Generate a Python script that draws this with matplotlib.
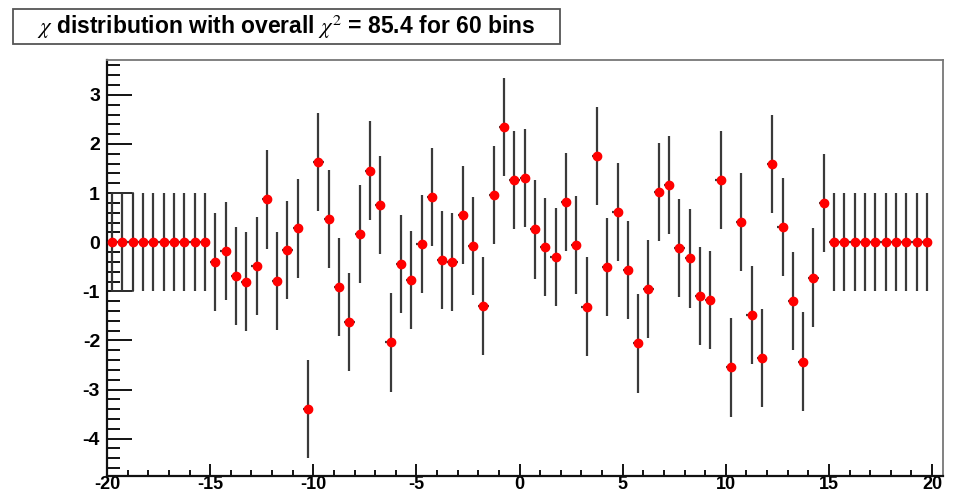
import numpy as np
import matplotlib
matplotlib.use("Agg")
import matplotlib.pyplot as plt
from matplotlib.patches import Rectangle
from matplotlib.ticker import MultipleLocator

plt.rcParams['font.family'] = ['Liberation Sans', 'DejaVu Sans']
plt.rcParams['mathtext.fontset'] = 'stix'
plt.rcParams['axes.unicode_minus'] = False

# ---- data ----
bin_width = 0.5
bin_centers = np.arange(-19.75, 20.0, bin_width)
n_empty_left = 10
n_empty_right = 10
chi_values = [
    -0.40, -0.18, -0.69, -0.80, -0.49, 0.87, -0.79, -0.16, 0.28, -3.40,
    1.64, 0.47, -0.91, -1.62, 0.17, 1.46, 0.76, -2.04, -0.44, -0.77,
    -0.04, 0.92, -0.36, -0.40, 0.56, -0.07, -1.30, 0.96, 2.34, 1.27,
    1.30, 0.26, -0.09, -0.30, 0.82, -0.06, -1.31, 1.76, -0.51, 0.62,
    -0.57, -2.06, -0.95, 1.03, 1.17, -0.12, -0.33, -1.10, -1.17, 1.27,
    -2.55, 0.41, -1.48, -2.35, 1.60, 0.31, -1.19, -2.43, -0.72, 0.80,
]
y_errors = 1.0
x_ticks = [-20, -15, -10, -5, 0, 5, 10, 15, 20]
y_ticks = [-4, -3, -2, -1, 0, 1, 2, 3]
title = r"$\chi$ distribution with overall $\chi^2$ = 85.4 for 60 bins"

values = np.array([0.0] * n_empty_left + chi_values + [0.0] * n_empty_right)

# ---- figure ----
W, H = 961, 496
fig = plt.figure(figsize=(W / 100, H / 100), dpi=100)
ax = fig.add_axes([107 / W, (H - 476) / H, (943 - 107) / W, (476 - 60) / H])

ax.errorbar(bin_centers, values, xerr=bin_width / 2, yerr=y_errors, fmt='none',
            ecolor='#3a3a3a', elinewidth=1.6, capsize=0, zorder=2)
ax.plot(bin_centers, values, linestyle='none', marker='o', ms=6,
        mfc='#ff0000', mec='#ff0000', zorder=3)

# small box drawn at the left edge
ax.add_patch(Rectangle((bin_centers[0], -y_errors), 2 * bin_width, 2 * y_errors,
                       fill=False, edgecolor='#333333', lw=1.2, zorder=2))

ax.set_xlim(-20, 20.53)
ax.set_ylim(-4.76, 3.71)
ax.set_xticks(x_ticks)
ax.set_yticks(y_ticks)
ax.xaxis.set_minor_locator(MultipleLocator(1))
ax.yaxis.set_minor_locator(MultipleLocator(0.2))
ax.tick_params(axis='x', which='major', direction='in', length=9, width=1.3,
               pad=0, labelsize=13, top=False)
ax.tick_params(axis='x', which='minor', direction='in', length=4, width=1.3, top=False)
ax.tick_params(axis='y', which='major', direction='in', length=18, width=1.3,
               pad=5, labelsize=14, right=False)
ax.tick_params(axis='y', which='minor', direction='in', length=9, width=1.3, right=False)
for lab in ax.get_xticklabels() + ax.get_yticklabels():
    lab.set_fontweight('bold')

ax.spines['left'].set_linewidth(1.6)
ax.spines['bottom'].set_linewidth(1.6)
ax.spines['left'].set_color('#111111')
ax.spines['bottom'].set_color('#111111')
ax.spines['top'].set_color('#777777')
ax.spines['right'].set_color('#777777')
ax.spines['top'].set_linewidth(1.3)
ax.spines['right'].set_linewidth(1.3)

# title box
fig.patches.append(Rectangle((13 / W, 1 - 44 / H), (560 - 13) / W, (44 - 9) / H,
                             transform=fig.transFigure, fill=True, facecolor='white',
                             edgecolor='#555555', lw=1.3))
fig.text(286 / W, 1 - 27 / H, title, ha='center', va='center',
         fontsize=16.5, fontweight='bold')

fig.savefig('out.png', dpi=100)
